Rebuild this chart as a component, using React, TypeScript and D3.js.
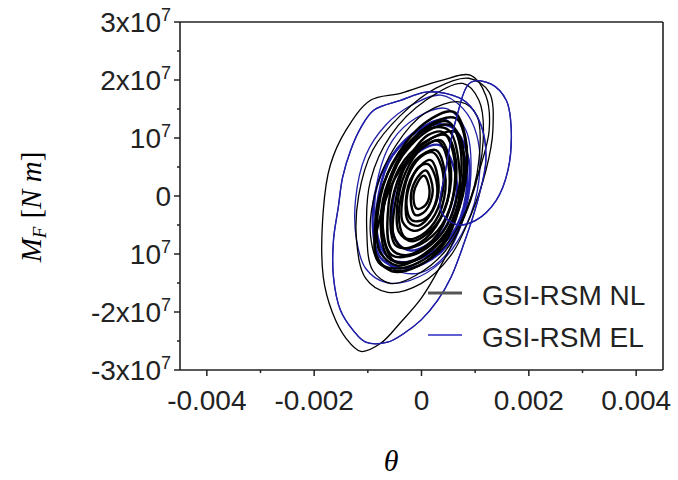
import React from 'react';
import * as d3 from 'd3';

// θ is kept in units of 1e-3 rad, M_F in units of 1e7 N m
const xTicks = [-4, -2, 0, 2, 4];
const xTickLabels = ['-0.004', '-0.002', '0', '0.002', '0.004'];
const xMinor = [-3, -1, 1, 3];
const yTicks = [3, 2, 1, 0, -1, -2, -3];
const yTickBase = ['3x10', '2x10', '10', '0', '10', '-2x10', '-3x10'];
const yTickExp = ['7', '7', '7', '', '7', '7', '7'];
const yMinor = [2.5, 1.5, 0.5, -0.5, -1.5, -2.5];
const seriesNames = ['GSI-RSM NL', 'GSI-RSM EL'];
const seriesColors = ['#000000', '#1f1fa8'];

type Pt = [number, number];

// GSI-RSM NL, large loops (black)
const nlLoops: Pt[][] = [
  [[0.92, 2.08], [0.36, 1.99], [-0.39, 1.77], [-0.95, 1.65], [-1.41, 1.13], [-1.7, 0.53], [-1.83, -0.25], [-1.83, -1.4], [-1.66, -2.01], [-1.41, -2.45], [-1.13, -2.68], [-0.76, -2.54], [-0.39, -2.18], [-0.01, -1.77], [0.36, -1.2], [0.73, -0.51], [1.02, 0.27], [1.26, 1.13], [1.2, 1.73]],
  [[0.88, 2.03], [1.26, 1.79], [1.33, 1.13], [1.2, 0.44], [0.92, -0.33], [0.55, -1.02], [-0.01, -1.51], [-0.63, -1.66], [-1.04, -1.42], [-1.21, -0.77], [-1.17, 0.01], [-0.91, 0.79], [-0.39, 1.39], [0.27, 1.86]],
  [[0.77, 1.94], [1.07, 1.65], [1.15, 0.96], [0.92, -0.07], [0.45, -0.94], [-0.11, -1.37], [-0.57, -1.51], [-0.91, -1.28], [-1.02, -0.59], [-0.95, 0.27], [-0.57, 1.05], [0.08, 1.65]],
  [[0.73, 1.62], [1.03, 1.39], [1.07, 0.62], [0.83, -0.25], [0.36, -0.94], [-0.29, -1.28], [-0.76, -1.19], [-0.95, -0.68], [-0.85, 0.1], [-0.48, 0.87], [0.08, 1.44]],
];

// GSI-RSM NL, dense core loops
const nlCore: Pt[][] = [
  [[0.55, 1.22], [0.77, 0.79], [0.7, -0.07], [0.36, -0.76], [-0.2, -1.14], [-0.61, -1.07], [-0.76, -0.51], [-0.61, 0.27], [-0.2, 0.87], [0.21, 1.17]],
  [[0.45, 1.05], [0.64, 0.62], [0.55, -0.16], [0.21, -0.76], [-0.29, -1.02], [-0.57, -0.9], [-0.63, -0.33], [-0.48, 0.36], [-0.11, 0.82]],
  [[0.36, 0.96], [0.55, 0.44], [0.42, -0.25], [0.08, -0.73], [-0.33, -0.9], [-0.52, -0.68], [-0.48, -0.07], [-0.29, 0.53], [0.08, 0.87]],
  [[0.64, 1.34], [0.83, 0.87], [0.77, 0.01], [0.45, -0.68], [-0.05, -1.07], [-0.48, -1.14], [-0.7, -0.76], [-0.67, 0.01], [-0.39, 0.7], [0.14, 1.22]],
  [[0.27, 0.79], [0.45, 0.27], [0.32, -0.33], [-0.01, -0.68], [-0.29, -0.73], [-0.42, -0.42], [-0.35, 0.1], [-0.11, 0.62]],
  [[0.17, 0.62], [0.32, 0.18], [0.21, -0.25], [-0.05, -0.51], [-0.24, -0.45], [-0.29, -0.07], [-0.16, 0.36]],
  [[0.51, 1.13], [0.7, 0.53], [0.64, -0.33], [0.27, -0.94], [-0.39, -1.25], [-0.8, -1.14], [-0.87, -0.59], [-0.72, 0.18], [-0.29, 0.87], [0.17, 1.17]],
  [[0.08, 0.44], [0.21, 0.1], [0.08, -0.25], [-0.11, -0.33], [-0.2, -0.07], [-0.11, 0.27]],
  [[0.5, 1.28], [0.72, 0.85], [0.68, 0.05], [0.4, -0.62], [-0.1, -1.0], [-0.55, -1.02], [-0.72, -0.55], [-0.6, 0.2], [-0.25, 0.85], [0.15, 1.2]],
  [[0.4, 1.1], [0.6, 0.7], [0.58, -0.05], [0.3, -0.6], [-0.15, -0.88], [-0.48, -0.85], [-0.58, -0.4], [-0.45, 0.25], [-0.15, 0.78], [0.12, 1.05]],
  [[0.3, 0.95], [0.5, 0.55], [0.48, -0.1], [0.22, -0.55], [-0.18, -0.78], [-0.42, -0.62], [-0.45, -0.15], [-0.3, 0.4], [0.0, 0.82]],
  [[0.22, 0.75], [0.4, 0.4], [0.35, -0.1], [0.12, -0.48], [-0.15, -0.6], [-0.35, -0.45], [-0.35, -0.02], [-0.2, 0.45], [0.02, 0.7]],
  [[0.12, 0.55], [0.28, 0.25], [0.25, -0.15], [0.05, -0.4], [-0.18, -0.42], [-0.28, -0.15], [-0.2, 0.25], [-0.05, 0.5]],
  [[0.6, 1.45], [0.82, 1.0], [0.8, 0.2], [0.55, -0.5], [0.05, -1.0], [-0.45, -1.2], [-0.78, -0.95], [-0.8, -0.2], [-0.55, 0.55], [0.05, 1.25]],
  [[0.65, 1.1], [0.8, 0.6], [0.7, -0.2], [0.4, -0.85], [-0.05, -1.2], [-0.55, -1.3], [-0.85, -1.0], [-0.75, -0.3], [-0.4, 0.45], [0.2, 1.0]],
  [[0.05, 0.35], [0.15, 0.1], [0.08, -0.15], [-0.08, -0.22], [-0.15, -0.05], [-0.08, 0.22]],
];

// GSI-RSM EL loops (blue)
const elLoops: Pt[][] = [
  [[0.08, 1.79], [-0.39, 1.65], [-0.89, 1.48], [-1.13, 1.18], [-1.32, 0.79], [-1.47, 0.32], [-1.55, -0.19], [-1.64, -0.76], [-1.64, -1.4], [-1.51, -1.97], [-1.27, -2.32], [-1.04, -2.52], [-0.63, -2.52], [-0.33, -2.37], [-0.01, -2.14], [0.3, -1.8], [0.55, -1.4], [0.79, -0.82], [1.05, -0.07], [1.2, 0.62], [1.11, 1.22], [0.83, 1.62], [0.45, 1.77]],
  [[0.92, 1.96], [1.3, 1.93], [1.58, 1.65], [1.67, 1.19], [1.61, 0.44], [1.39, -0.08], [1.01, -0.42], [0.64, -0.49], [0.36, -0.25], [0.45, 0.44], [0.64, 1.31]],
  [[0.36, 1.74], [-0.2, 1.56], [-0.67, 1.22], [-1.04, 0.7], [-1.23, -0.07], [-1.21, -0.76], [-1.04, -1.25], [-0.67, -1.49], [-0.2, -1.45], [0.36, -1.14], [0.83, -0.51], [1.07, 0.27], [1.03, 1.05], [0.77, 1.51]],
  [[0.45, 1.51], [-0.11, 1.34], [-0.54, 0.96], [-0.8, 0.36], [-0.87, -0.33], [-0.76, -0.94], [-0.48, -1.28], [-0.01, -1.32], [0.45, -1.02], [0.77, -0.42], [0.92, 0.36], [0.83, 1.13]],
];

// GSI-RSM EL, core loops
const elCore: Pt[][] = [
  [[0.59, 1.17], [0.88, 0.62], [0.77, -0.33], [0.36, -0.97], [-0.29, -1.25], [-0.76, -1.07], [-0.91, -0.42], [-0.76, 0.36], [-0.29, 0.96], [0.17, 1.22]],
  [[0.45, 1.31], [0.77, 0.79], [0.83, 0.01], [0.55, -0.68], [-0.01, -1.07], [-0.54, -1.11], [-0.8, -0.76], [-0.8, 0.01], [-0.54, 0.7], [-0.01, 1.17]],
  [[0.36, 0.87], [0.64, 0.36], [0.59, -0.25], [0.27, -0.73], [-0.2, -0.94], [-0.48, -0.76], [-0.54, -0.16], [-0.35, 0.44], [-0.01, 0.79]],
];

const FONT = '"Liberation Sans", Arial, sans-serif';
const SERIF = '"Liberation Serif", "DejaVu Serif", serif';

export default function App() {
  const left = 180, right = 663, top = 22, bottom = 370;
  const x = d3.scaleLinear().domain([-4.5, 4.5]).range([left, right]);
  const y = d3.scaleLinear().domain([-3, 3]).range([bottom, top]);
  const line = d3
    .line<Pt>()
    .x((d) => x(d[0]))
    .y((d) => y(d[1]))
    .curve(d3.curveCatmullRomClosed.alpha(0.5));

  return (
    <svg width={678} height={480} style={{ position: 'absolute', left: 0, top: 0, background: '#fff' }}>
      {/* loops */}
      <g fill="none">
        {elLoops.map((l, i) => (
          <path key={'e' + i} d={line(l) || ''} stroke={seriesColors[1]} strokeWidth={1.3} />
        ))}
        {elCore.map((l, i) => (
          <path key={'ec' + i} d={line(l) || ''} stroke={seriesColors[1]} strokeWidth={2.4} />
        ))}
        {nlLoops.map((l, i) => (
          <path key={'n' + i} d={line(l) || ''} stroke={seriesColors[0]} strokeWidth={1.3} />
        ))}
        {nlCore.map((l, i) => (
          <path key={'nc' + i} d={line(l) || ''} stroke={seriesColors[0]} strokeWidth={2.4} />
        ))}
        {elLoops.slice(0, 2).map((l, i) => (
          <path key={'e2' + i} d={line(l) || ''} stroke={seriesColors[1]} strokeWidth={1.3} />
        ))}
      </g>

      {/* frame */}
      <g stroke="#222" strokeWidth={1.6} fill="none">
        <line x1={left} x2={right} y1={top} y2={top} />
        <line x1={right} x2={right} y1={top} y2={bottom} />
        <line x1={left} x2={right} y1={bottom} y2={bottom} />
        <line x1={left} x2={left} y1={top} y2={bottom} />
      </g>

      {/* y axis */}
      <g stroke="#222" strokeWidth={1.5}>
        {yTicks.map((t) => (
          <line key={t} x1={left - 6} x2={left} y1={y(t)} y2={y(t)} />
        ))}
        {yMinor.map((t) => (
          <line key={t} x1={left - 3} x2={left} y1={y(t)} y2={y(t)} />
        ))}
      </g>
      <g fontFamily={FONT} fontSize={28} fill="#222" textAnchor="end">
        {yTicks.map((t, i) => (
          <text key={t} x={171} y={y(t) + 10}>
            {yTickBase[i]}
            {yTickExp[i] && (
              <tspan fontSize={18} dy={-11}>
                {yTickExp[i]}
              </tspan>
            )}
          </text>
        ))}
      </g>

      {/* x axis */}
      <g stroke="#222" strokeWidth={1.5}>
        {xTicks.map((t) => (
          <line key={t} x1={x(t)} x2={x(t)} y1={bottom} y2={bottom + 6} />
        ))}
        {xMinor.map((t) => (
          <line key={t} x1={x(t)} x2={x(t)} y1={bottom} y2={bottom + 3} />
        ))}
      </g>
      <g fontFamily={FONT} fontSize={28} fill="#222" textAnchor="middle">
        {xTicks.map((t, i) => (
          <text key={t} x={x(t)} y={410}>
            {xTickLabels[i]}
          </text>
        ))}
      </g>

      {/* legend */}
      <g>
        <line x1={428} x2={462} y1={293} y2={293} stroke="#555" strokeWidth={3} />
        <text x={482} y={305} fontFamily={FONT} fontSize={28} fill="#222">
          {seriesNames[0]}
        </text>
        <line x1={428} x2={462} y1={335} y2={335} stroke="#2b2bc0" strokeWidth={1.6} />
        <text x={482} y={347} fontFamily={FONT} fontSize={28} fill="#222">
          {seriesNames[1]}
        </text>
      </g>

      {/* axis titles */}
      <text transform="translate(41,207) rotate(-90)" textAnchor="middle" fontFamily={SERIF} fontSize={29} fill="#000">
        <tspan fontStyle="italic">M</tspan>
        <tspan fontStyle="italic" fontSize={19} dy={5}>F</tspan>
        <tspan dy={-5} dx={8}>[</tspan>
        <tspan fontStyle="italic">N m</tspan>
        <tspan>]</tspan>
      </text>
      <text x={391} y={471} textAnchor="middle" fontFamily={SERIF} fontStyle="italic" fontSize={30} fill="#000">
        θ
      </text>
    </svg>
  );
}
